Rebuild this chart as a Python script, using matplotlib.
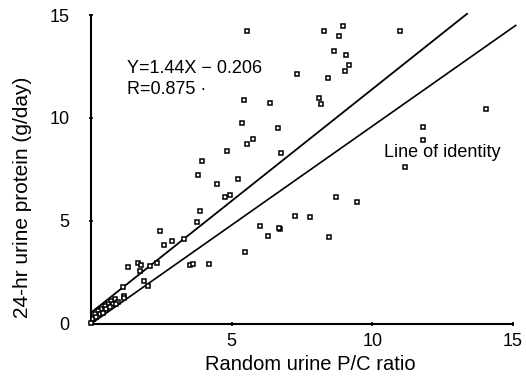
import matplotlib
matplotlib.use("Agg")
import matplotlib.pyplot as plt
import numpy as np

plt.rcParams['font.family'] = ['Liberation Sans', 'DejaVu Sans']

# Random urine P/C ratio (x) vs 24-hr urine protein (y)
pc_ratio = [
    5.53, 7.32, 5.43, 6.35, 5.38, 6.64, 5.76, 5.56, 4.85, 6.76, 3.93,
    8.30, 8.96, 8.81, 10.99, 8.63, 9.08, 9.16, 9.03, 8.42, 8.11, 8.17,
    14.05, 11.81, 11.81, 11.16, 8.70, 9.47, 7.26, 7.78, 6.73, 8.48,
    3.79, 4.48, 5.24, 4.93, 4.76, 3.89, 3.76, 2.47, 2.58, 2.87, 3.32,
    2.09, 2.33, 3.51, 3.61, 4.18, 5.49, 6.00, 6.31, 6.70,
    1.31, 1.67, 1.78, 1.73, 1.90, 2.02, 1.13, 1.17, 1.19,
    0.84, 0.72, 0.60, 0.49, 0.37, 0.25, 0.13, 0.07, 0.78, 0.96, 0.54,
    0.31, 0.19, 0.01, 0.43, 0.66, 0.90,
]
protein_24h = [
    14.23, 12.14, 10.87, 10.74, 9.76, 9.49, 8.98, 8.75, 8.38, 8.30, 7.89,
    14.23, 14.46, 13.99, 14.21, 13.24, 13.06, 12.57, 12.27, 11.95, 10.97, 10.69,
    10.46, 9.57, 8.95, 7.64, 6.16, 5.90, 5.25, 5.18, 4.63, 4.24,
    7.22, 6.81, 7.06, 6.27, 6.15, 5.49, 4.97, 4.53, 3.83, 4.04, 4.14,
    2.80, 2.95, 2.87, 2.92, 2.90, 3.47, 4.74, 4.25, 4.65,
    2.75, 2.97, 2.87, 2.59, 2.10, 1.86, 1.78, 1.37, 1.24,
    1.21, 1.12, 0.96, 0.88, 0.72, 0.64, 0.47, 0.23, 0.96, 1.04, 0.72,
    0.47, 0.31, 0.06, 0.55, 0.80, 0.96,
]

# Lines as drawn in the figure (slope, intercept, x-range)
reg_slope, reg_intercept, reg_xmax = 1.086, 0.54, 13.37
id_slope, id_intercept, id_xmax = 0.96, 0.0, 15.1

x_ticks = [5, 10, 15]
y_ticks = [0, 5, 10, 15]

fig = plt.figure(figsize=(5.26, 3.86), dpi=100)
ax = fig.add_axes([0.173, 0.161, 0.802, 0.80])

ax.plot(pc_ratio, protein_24h, linestyle='none', marker='s', markersize=3.3,
        markerfacecolor='white', markeredgecolor='black', markeredgewidth=1.1,
        zorder=3, clip_on=False)

xr = np.array([0.0, reg_xmax])
ax.plot(xr, reg_slope * xr + reg_intercept, color='black', lw=1.3, clip_on=False)
xi = np.array([0.0, id_xmax])
ax.plot(xi, id_slope * xi + id_intercept, color='black', lw=1.2, clip_on=False)

ax.set_xlim(0, 15)
ax.set_ylim(0, 15)
ax.set_xticks(x_ticks)
ax.set_yticks(y_ticks)
for s in ['top', 'right']:
    ax.spines[s].set_visible(False)
for s in ['left', 'bottom']:
    ax.spines[s].set_linewidth(1.5)
ax.tick_params(axis='both', direction='inout', length=3, width=1.2, labelsize=13)
ax.tick_params(axis='y', pad=14)
ax.tick_params(axis='x', pad=5)

ax.set_xlabel('Random urine P/C ratio', fontsize=14.5, labelpad=3)
ax.xaxis.set_label_coords(0.52, -0.10)
ax.set_ylabel('24-hr urine protein (g/day)', fontsize=15, labelpad=12)
ax.yaxis.set_label_coords(-0.14, 0.41)

ax.text(1.28, 12.42, 'Y=1.44X \u2212 0.206', fontsize=13, va='center', ha='left')
ax.text(1.28, 11.39, 'R=0.875 \u00b7', fontsize=13, va='center', ha='left')
ax.text(10.43, 8.31, 'Line of identity', fontsize=13, va='center', ha='left')

fig.savefig('out.png', dpi=100)
